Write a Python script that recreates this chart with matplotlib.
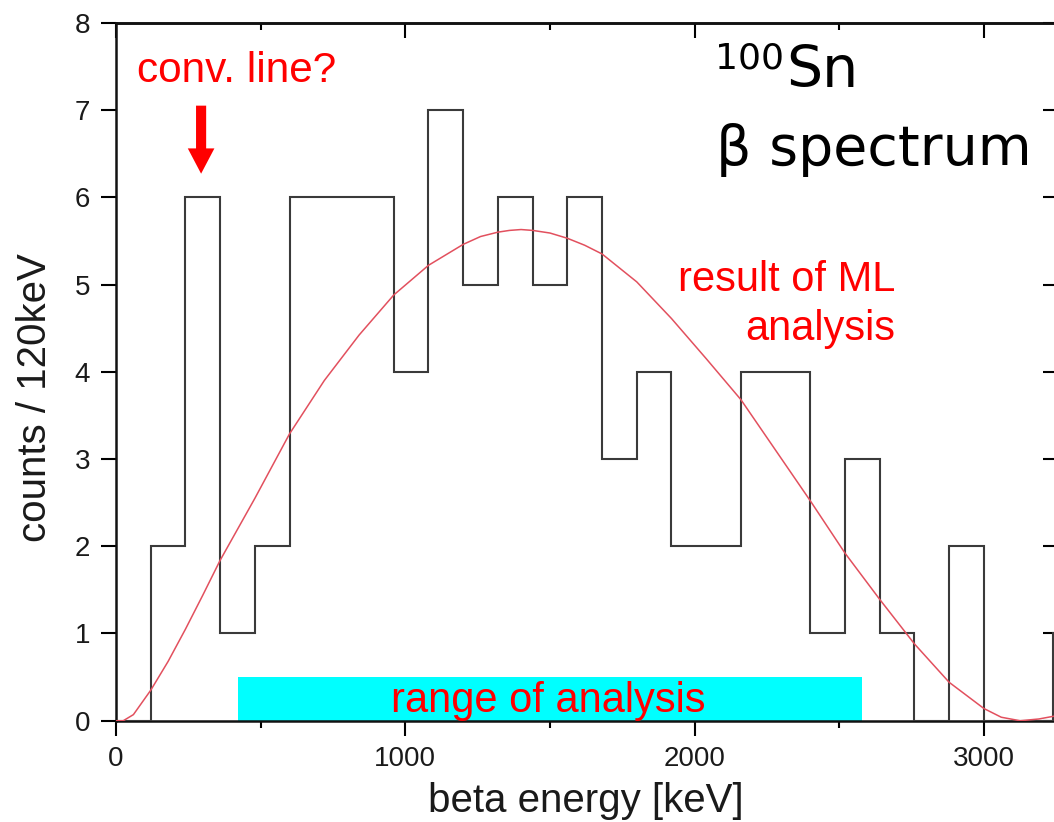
import matplotlib
matplotlib.use("Agg")
import matplotlib.pyplot as plt
from matplotlib.ticker import MultipleLocator

plt.rcParams['font.family'] = ['Liberation Sans', 'DejaVu Sans']

# histogram, 120 keV bins
bin_edges = [0, 120, 240, 360, 480, 600, 720, 840, 960, 1080, 1200, 1320, 1440,
             1560, 1680, 1800, 1920, 2040, 2160, 2280, 2400, 2520, 2640, 2760,
             2880, 3000, 3120, 3240, 3360]
counts = [0, 2, 6, 1, 2, 6, 6, 6, 4, 7, 5, 6, 5, 6, 3, 4, 2, 2, 4, 4, 1, 3, 1,
          0, 2, 0, 0, 1]

# ML fit curve
fit_e = [0, 25, 60, 120, 180, 240, 300, 360, 480, 600, 720, 840, 960, 1080,
         1200, 1260, 1320, 1360, 1400, 1440, 1500, 1560, 1620, 1680, 1800,
         1920, 2040, 2160, 2280, 2400, 2520, 2640, 2760, 2880, 3000, 3060,
         3125, 3190, 3255]
fit_y = [0, 0, 0.07, 0.35, 0.68, 1.05, 1.44, 1.84, 2.55, 3.29, 3.90, 4.42,
         4.88, 5.22, 5.46, 5.55, 5.60, 5.62, 5.63, 5.62, 5.59, 5.53, 5.45,
         5.35, 5.03, 4.61, 4.15, 3.68, 3.10, 2.52, 1.92, 1.39, 0.88, 0.44,
         0.14, 0.04, 0.0, 0.02, 0.06]

range_lo, range_hi = 420, 2580

fig = plt.figure(figsize=(10.54, 8.22), dpi=100)
ax = fig.add_axes([0.1101, 0.1232, 0.8934, 0.8491])

ax.add_patch(plt.Rectangle((range_lo, 0), range_hi - range_lo, 0.5,
                           color='#00ffff', lw=0, zorder=1))
ax.stairs(counts, bin_edges, color='#3a3a3a', lw=1.5, zorder=3)
ax.plot(fit_e, fit_y, color='#e2505e', lw=1.1, zorder=4)

ax.set_xlim(0, 3255)
ax.set_ylim(0, 8)

for s in ax.spines.values():
    s.set_linewidth(1.8)
    s.set_color('#111111')

ax.xaxis.set_major_locator(MultipleLocator(1000))
ax.xaxis.set_minor_locator(MultipleLocator(500))
ax.yaxis.set_major_locator(MultipleLocator(1))
ax.tick_params(axis='both', which='major', direction='out', length=10.5,
               width=1.5, labelsize=20, pad=8, labelcolor='#1a1a1a')
ax.tick_params(axis='x', which='minor', direction='out', length=5, width=1.5)

# inward ticks on top and right
top = ax.secondary_xaxis('top')
top.xaxis.set_major_locator(MultipleLocator(1000))
top.xaxis.set_minor_locator(MultipleLocator(500))
top.tick_params(which='major', direction='in', length=10.5, width=1.5, labeltop=False)
top.tick_params(which='minor', direction='in', length=5, width=1.5)
top.spines['top'].set_linewidth(1.8)
right = ax.secondary_yaxis('right')
right.yaxis.set_major_locator(MultipleLocator(1))
right.tick_params(which='major', direction='in', length=10.5, width=1.5, labelright=False)

fig.text(35 / 1054, 1 - 398 / 822, 'counts / 120keV', rotation=90,
         ha='center', va='center', fontsize=29, color='#1a1a1a')
fig.text(586 / 1054, 1 - 812 / 822, 'beta energy [keV]', ha='center',
         va='baseline', fontsize=29, color='#1a1a1a')

red = '#ff0000'
ax.text(73, 7.32, 'conv. line?', color=red, fontsize=30.5, ha='left', va='baseline')
ax.arrow(294, 7.05, 0, -0.78, width=35, head_width=92, head_length=0.29,
         length_includes_head=True, color=red, lw=0, zorder=5)
ax.text(2693, 4.93, 'result of ML', color=red, fontsize=30, ha='right', va='baseline')
ax.text(2693, 4.36, 'analysis', color=red, fontsize=30, ha='right', va='baseline')
ax.text(1493, 0.10, 'range of analysis', color=red, fontsize=30, ha='center',
        va='baseline', zorder=6)

ax.text(2070, 7.48, '100', fontsize=26, family='DejaVu Sans', ha='left', va='baseline')
ax.text(2316, 7.26, 'Sn', fontsize=41, family='DejaVu Sans', ha='left', va='baseline')
ax.text(2074, 6.37, 'β spectrum', fontsize=40, family='DejaVu Sans', ha='left', va='baseline')

fig.savefig('out.png', dpi=100)
